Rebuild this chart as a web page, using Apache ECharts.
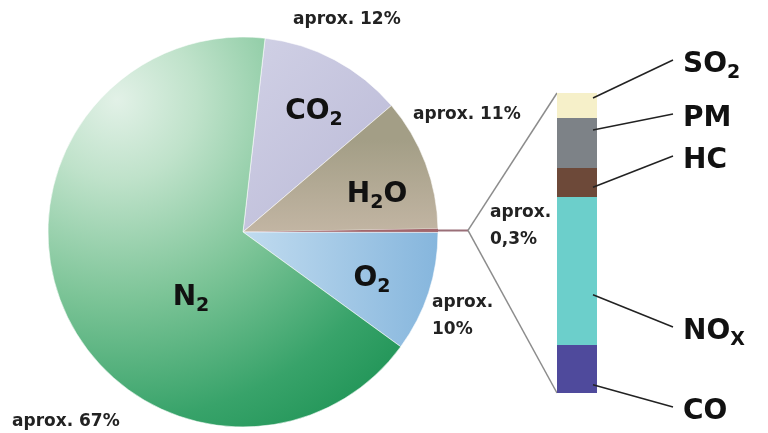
<!DOCTYPE html>
<html lang="es">
<head>
<meta charset="UTF-8">
<title>Composición de los gases de escape</title>
<script src="https://cdn.jsdelivr.net/npm/echarts@6/dist/echarts.min.js"></script>
<style>
  html, body { margin: 0; padding: 0; background: #fff; }
  #chart { width: 768px; height: 433px; }
</style>
</head>
<body>
<div id="chart"></div>
<script>
  // gases de escape, % aproximado (sentido horario desde arriba)
  const gasNames = ['CO2', 'H2O', 'contaminantes', 'O2', 'N2'];
  const gasValues = [12, 11, 0.3, 10, 67];
  const gasLabels = ['{m|CO}{s|2}', '{m|H}{s|2}{m|O}', '', '{m|O}{s|2}', '{m|N}{s|2}'];
  const gasPercent = ['aprox. 12%', 'aprox. 11%', 'aprox.\n0,3%', 'aprox.\n10%', 'aprox. 67%'];

  // reparto del 0,3% de contaminantes (de abajo a arriba)
  const pollNames = ['CO', 'NOx', 'HC', 'PM', 'SO2'];
  const pollValues = [16, 49.3, 9.7, 16.7, 8.3];
  const pollLabels = ['{m|CO}', '{m|NO}{s|X}', '{m|HC}', '{m|PM}', '{m|SO}{s|2}'];

  // estilos / posiciones
  const gasColors = [
    { type: 'linear', x: 250, y: 40, x2: 430, y2: 200, global: true,
      colorStops: [{ offset: 0, color: '#d0d0e5' }, { offset: 1, color: '#b9b8d6' }] },
    { type: 'linear', x: 0, y: 140, x2: 0, y2: 232, global: true,
      colorStops: [{ offset: 0, color: '#a39e86' }, { offset: 1, color: '#c2b5a3' }] },
    '#a2666c',
    { type: 'linear', x: 245, y: 0, x2: 437, y2: 0, global: true,
      colorStops: [{ offset: 0, color: '#c0dbef' }, { offset: 1, color: '#86b6dd' }] },
    { type: 'radial', x: 117, y: 100, r: 400, global: true,
      colorStops: [
        { offset: 0, color: '#e2f1e7' }, { offset: 0.2, color: '#bfe2ca' },
        { offset: 0.5, color: '#7cc497' }, { offset: 0.8, color: '#38a36a' },
        { offset: 1, color: '#1e9355' }] }
  ];
  const pollColors = ['#4f4a9c', '#6ccfcb', '#6d4939', '#7d8287', '#f6f0c9'];

  const pieCenter = [243, 232];
  const pieRadius = 195;
  const pieStart = 83.5;
  const innerLabelPos = [[314, 113], [377, 196], [0, 0], [372, 280], [191, 299]];
  const outerLabelPos = [[293, 20], [413, 115], [490, 226], [432, 316], [12, 422]];

  const barGrid = { left: 557, top: 93, width: 40, height: 300 };
  const pollLabelX = 683;
  const pollLabelY = [413, 333, 162, 120, 66];
  const pollAnchor = [0.17, 0.34, 0.34, 0.76, 0.8];   // posición de la guía dentro de cada tramo

  const bigFont = 'DejaVu Sans';
  const richBig = {
    m: { fontFamily: bigFont, fontSize: 28, fontWeight: 'bold', color: '#111', lineHeight: 30, verticalAlign: 'top' },
    s: { fontFamily: bigFont, fontSize: 19, fontWeight: 'bold', color: '#111', lineHeight: 20,
         padding: [13, 0, 0, 0], verticalAlign: 'top' }
  };

  const chart = echarts.init(document.getElementById('chart'));

  const pollTotal = pollValues.reduce((a, b) => a + b, 0);

  chart.setOption({
    backgroundColor: '#fff',
    animation: false,
    grid: barGrid,
    xAxis: { type: 'category', data: ['0,3%'], show: false },
    yAxis: { type: 'value', min: 0, max: pollTotal, show: false, splitLine: { show: false } },
    series: [
      {
        type: 'pie',
        center: pieCenter,
        radius: [0, pieRadius],
        startAngle: pieStart,
        clockwise: true,
        avoidLabelOverlap: false,
        silent: true,
        itemStyle: { borderColor: 'rgba(255,255,255,0.55)', borderWidth: 1 },
        label: {
          show: true,
          position: 'inside',
          formatter: p => gasLabels[p.dataIndex],
          rich: richBig
        },
        labelLine: { show: false },
        labelLayout: p => ({
          x: innerLabelPos[p.dataIndex][0],
          y: innerLabelPos[p.dataIndex][1],
          align: 'center',
          verticalAlign: 'middle'
        }),
        data: gasNames.map((n, i) => ({
          name: n,
          value: gasValues[i],
          itemStyle: i === 2 ? { color: gasColors[i], borderWidth: 0 } : { color: gasColors[i] }
        }))
      },
      {
        // solo etiquetas de porcentaje
        type: 'pie',
        center: pieCenter,
        radius: [0, pieRadius],
        startAngle: pieStart,
        clockwise: true,
        avoidLabelOverlap: false,
        silent: true,
        itemStyle: { color: 'rgba(0,0,0,0)' },
        label: {
          show: true,
          position: 'outside',
          formatter: p => gasPercent[p.dataIndex],
          fontFamily: bigFont,
          fontSize: 17,
          fontWeight: 'bold',
          color: '#222',
          lineHeight: 27
        },
        labelLine: { show: false },
        labelLayout: p => ({
          x: outerLabelPos[p.dataIndex][0],
          y: outerLabelPos[p.dataIndex][1],
          align: 'left',
          verticalAlign: 'middle'
        }),
        data: gasNames.map((n, i) => ({ name: n, value: gasValues[i] }))
      }
    ].concat(pollNames.map((n, i) => ({
      type: 'bar',
      name: n,
      stack: 'poll',
      barWidth: '100%',
      silent: true,
      data: [pollValues[i]],
      itemStyle: { color: pollColors[i] },
      label: {
        show: true,
        position: 'right',
        formatter: pollLabels[i],
        rich: richBig
      },
      labelLayout: {
        x: pollLabelX,
        y: pollLabelY[i],
        align: 'left',
        verticalAlign: 'middle'
      }
    })))
  });

  // líneas guía: abanico desde la porción de 0,3% hasta la barra, y guías de las etiquetas
  const gasTotal = gasValues.reduce((a, b) => a + b, 0);
  const before = gasValues.slice(0, 2).reduce((a, b) => a + b, 0);
  const midAngle = (pieStart - 360 * (before + gasValues[2] / 2) / gasTotal) * Math.PI / 180;
  const edge = [pieCenter[0] + pieRadius * Math.cos(midAngle), pieCenter[1] - pieRadius * Math.sin(midAngle)];
  const fan = [pieCenter[0] + (pieRadius + 30) * Math.cos(midAngle), pieCenter[1] - (pieRadius + 30) * Math.sin(midAngle)];
  const barTop = chart.convertToPixel({ gridIndex: 0 }, [0, pollTotal]);
  const barBottom = chart.convertToPixel({ gridIndex: 0 }, [0, 0]);
  const half = barGrid.width / 2;

  const graphics = [
    { type: 'line', shape: { x1: edge[0] - 2, y1: edge[1], x2: fan[0], y2: fan[1] },
      style: { stroke: '#9a6f78', lineWidth: 2 } },
    { type: 'line', shape: { x1: fan[0], y1: fan[1], x2: barTop[0] - half, y2: barTop[1] },
      style: { stroke: '#8c8c8c', lineWidth: 1.5 } },
    { type: 'line', shape: { x1: fan[0], y1: fan[1], x2: barBottom[0] - half, y2: barBottom[1] },
      style: { stroke: '#8c8c8c', lineWidth: 1.5 } }
  ];
  let acc = 0;
  pollValues.forEach((v, i) => {
    const p = chart.convertToPixel({ gridIndex: 0 }, [0, acc + v * pollAnchor[i]]);
    acc += v;
    graphics.push({
      type: 'line',
      z: 10,
      shape: { x1: p[0] + half - 4, y1: p[1], x2: pollLabelX - 10, y2: pollLabelY[i] - 6 },
      style: { stroke: '#222', lineWidth: 1.5 }
    });
  });
  chart.setOption({ graphic: graphics });
</script>
</body>
</html>
